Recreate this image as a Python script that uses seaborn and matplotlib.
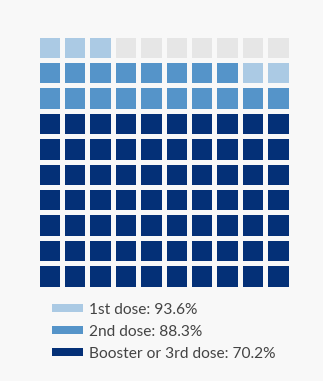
import numpy as np
import matplotlib
matplotlib.use("Agg")
import matplotlib.pyplot as plt
from matplotlib.colors import ListedColormap
from matplotlib.patches import Patch
import seaborn as sns

doses = ["1st dose", "2nd dose", "Booster or 3rd dose"]
pct = [93.6, 88.3, 70.2]
colors = ["#abcae4", "#5594c9", "#043077"]
empty_color = "#e6e6e6"
bg = "#f8f8f8"

sns.set_theme(style="white")
plt.rcParams["font.family"] = ["Lato", "DejaVu Sans"]

# build 10x10 waffle: cells filled bottom-to-top, left-to-right
n = 100
codes = np.zeros(n, dtype=int)  # 0 = empty
counts = [int(np.floor(p)) for p in pct]
codes[:counts[2]] = 3
codes[counts[2]:counts[1]] = 2
codes[counts[1]:counts[0]] = 1
grid = codes.reshape(10, 10)[::-1]  # row 0 at top

cmap = ListedColormap([empty_color, colors[0], colors[1], colors[2]])

fig = plt.figure(figsize=(3.23, 3.81), dpi=100, facecolor=bg)
ax = fig.add_axes([36.5/323, 1 - 288.5/381, 254/323, 254/381])
ax.set_facecolor(bg)
sns.heatmap(grid, ax=ax, cmap=cmap, vmin=-0.5, vmax=3.5, cbar=False,
            linewidths=2.3, linecolor=bg, square=False,
            xticklabels=False, yticklabels=False)

handles = [Patch(facecolor=c, edgecolor="none") for c in colors]
labels = [f"{d}: {p}%" for d, p in zip(doses, pct)]
leg = fig.legend(handles, labels, loc="upper left",
                 bbox_to_anchor=(52/323, 1 - 303/381),
                 frameon=False, fontsize=11.2, handlelength=2.0,
                 handleheight=0.42, handletextpad=0.35, labelspacing=0.5,
                 borderpad=0, borderaxespad=0)
for t in leg.get_texts():
    t.set_color("#444444")

fig.savefig("out.png", dpi=100, facecolor=bg)
